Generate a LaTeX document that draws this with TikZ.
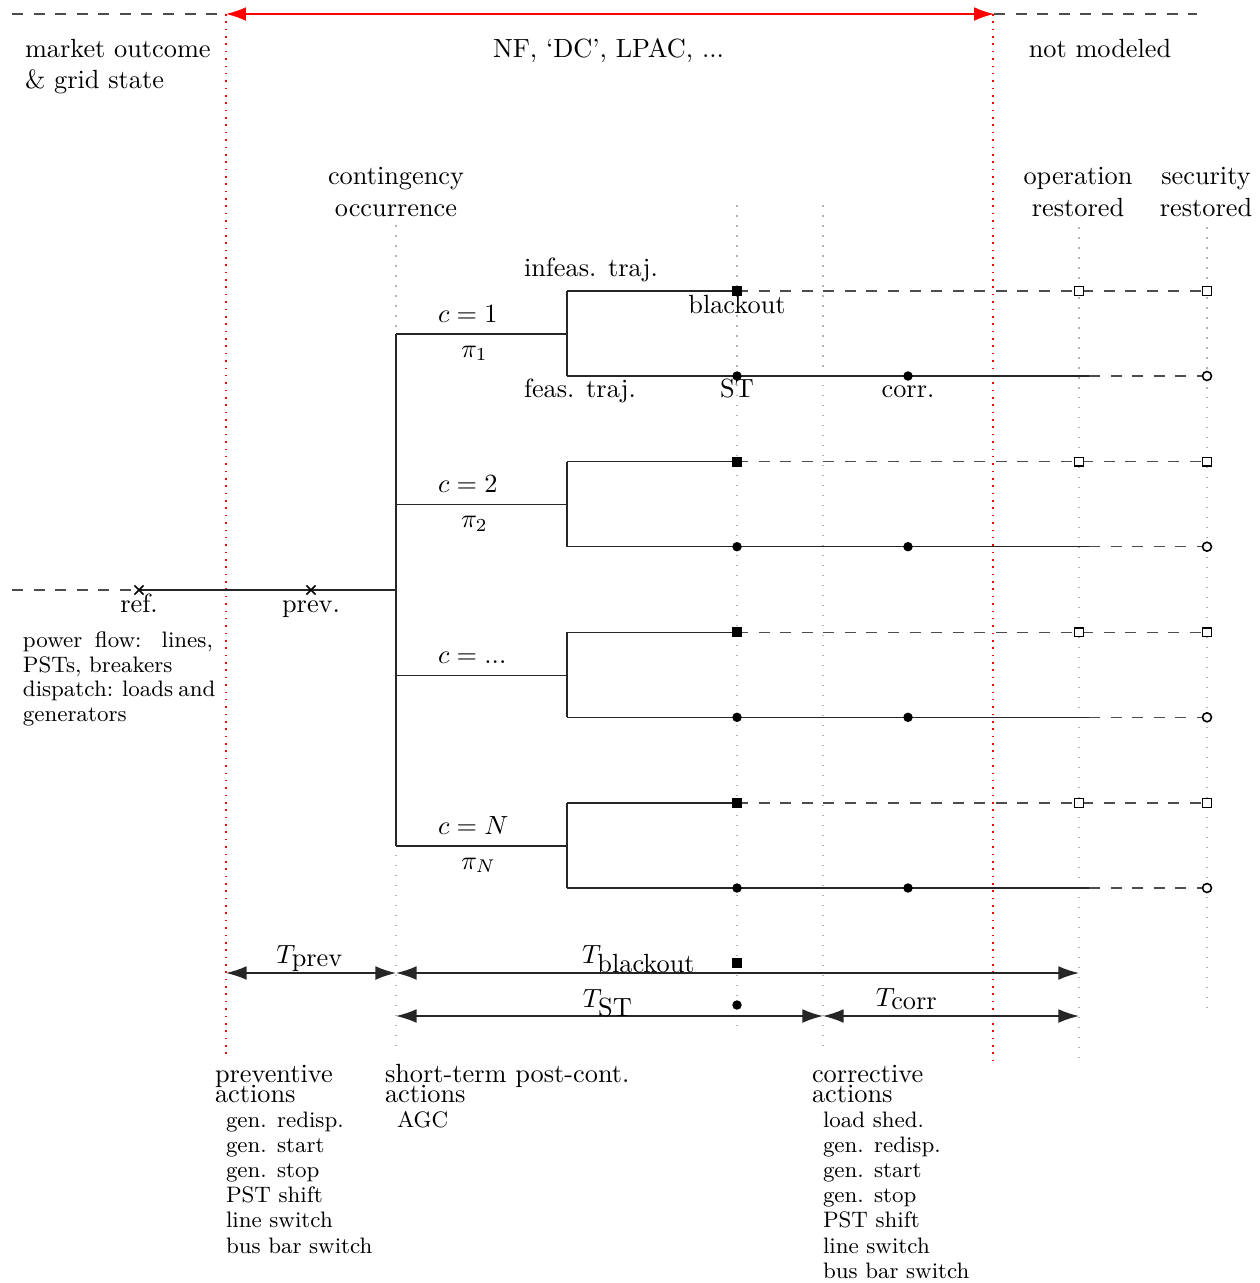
\documentclass[tikz,border=0pt]{standalone}
\usepackage{fontspec}
\usetikzlibrary{arrows.meta,shapes.misc}

% stacked lines with a fixed baseline distance; the box baseline is the first line's
\newcommand{\leftlines}[2]{\vtop{\baselineskip=#1\lineskiplimit=-\maxdimen\lineskip=0pt\halign{##\hfil\cr#2\crcr}}}
\newcommand{\midlines}[2]{\vtop{\baselineskip=#1\lineskiplimit=-\maxdimen\lineskip=0pt\halign{\hfil##\hfil\cr#2\crcr}}}

\begin{document}
\begin{tikzpicture}[x=0.3802pt,y=-0.3802pt,
  tree/.style={line width=0.55pt,black!85},
  dsh/.style={line width=0.55pt,black!70,dash pattern=on 4.2pt off 4pt},
  gdot/.style={line width=0.6pt,black!30,dash pattern=on 0.6pt off 3.2pt},
  rdot/.style={line width=0.6pt,red,dash pattern=on 0.6pt off 2.2pt},
  redspan/.style={line width=0.5pt,red,{Latex[length=7.6pt,width=5.2pt]}-{Latex[length=7.6pt,width=5.2pt]}},
  span/.style={line width=0.55pt,black!85,{Latex[length=7.8pt,width=5.2pt]}-{Latex[length=7.8pt,width=5.2pt]}},
  lbl/.style={inner sep=0pt,outer sep=0pt,anchor=base},
  lblw/.style={inner sep=0pt,outer sep=0pt,anchor=base west},
  smallfont/.style={font=\fontsize{8.5pt}{9.6pt}\selectfont},
  fsq/.style={rectangle,fill=black,inner sep=0pt,minimum size=3.9pt},
  osq/.style={rectangle,draw=black,line width=0.6pt,fill=white,inner sep=0pt,minimum size=3.3pt},
  fdot/.style={circle,fill=black,inner sep=0pt,minimum size=3.6pt},
  odot/.style={circle,draw=black,line width=0.6pt,fill=white,inner sep=0pt,minimum size=3.4pt},
  xm/.style={cross out,draw=black,line width=0.6pt,inner sep=0pt,minimum size=2.9pt}]

\useasboundingbox (0,0) rectangle (1259,1283);

% ---- time markers (dotted verticals)
\draw[rdot] (226,14) -- (226,1055);
\draw[rdot] (993,14) -- (993,1062);
\draw[gdot] (396,225) -- (396,1052);
\draw[gdot] (737,205) -- (737,1030);
\draw[gdot] (823,205) -- (823,1052);
\draw[gdot] (1079,227) -- (1079,1062);
\draw[gdot] (1207,227) -- (1207,1010);

% ---- modelling horizon bar
\coordinate (tl) at (12,14);
\coordinate (ta) at (226,14);
\coordinate (tb) at (994,14);
\coordinate (tr) at (1197,14);
\draw[dsh] (tl) -- (ta);
\draw[dsh] (tb) -- (tr);
\draw[redspan] (ta) -- (tb);

\node[lblw] (mkt) at (25,57) {\leftlines{11.8pt}{market outcome\cr \& grid state}};
\node[lbl] (models) at (608.5,57) {NF, `DC', LPAC, ...};
\node[lbl] (notmod) at (1100,57) {not modeled};
\node[lbl] (cont) at (396,184) {\midlines{12.5pt}{contingency\cr occurrence}};
\node[lbl] (oprest) at (1078,184) {\midlines{12.5pt}{operation\cr restored}};
\node[lbl] (secrest) at (1206,184) {\midlines{12.5pt}{security\cr restored}};

% ---- pre-contingency state
\coordinate (lft) at (12,590);
\coordinate (root) at (396,590);
\coordinate (refp) at (139,590);
\coordinate (prevp) at (311,590);
\draw[dsh] (lft) -- (refp);
\draw[tree] (refp) -- (root);
\node[xm] (ref) at (refp) {};
\node[xm] (prev) at (prevp) {};
\node[lbl] (reflbl) at (139,612) {ref.};
\node[lbl] (prevlbl) at (311,612) {prev.};

\node[lblw,smallfont] (pfdesc) at (23,647) {\vtop{\hsize=72.2pt\parindent=0pt\fontsize{8.5pt}{9.5pt}\selectfont
  power flow: lines,\linebreak PSTs, breakers\par
  dispatch: loads and\linebreak generators\par}};

% ---- contingency tree
\coordinate (b1) at (396,334);
\coordinate (b4) at (396,846);
\draw[tree] (b1) -- (b4);

\foreach \i/\yb in {1/334,2/504.7,3/675.3,4/846}{
  \coordinate (br\i) at (396,\yb);
  \coordinate (sp\i) at (567,\yb);
  \coordinate (up\i) at (567,\yb-43);
  \coordinate (dn\i) at (567,\yb+42);
  \coordinate (bkp\i) at (737,\yb-43);
  \coordinate (opp\i) at (1079,\yb-43);
  \coordinate (sep\i) at (1207,\yb-43);
  \coordinate (stp\i) at (737,\yb+42);
  \coordinate (cop\i) at (908,\yb+42);
  \coordinate (end\i) at (1089,\yb+42);
  \coordinate (scp\i) at (1207,\yb+42);
  \draw[tree] (br\i) -- (sp\i);
  \draw[tree] (up\i) -- (dn\i);
  \draw[tree] (up\i) -- (bkp\i);
  \draw[dsh] (bkp\i) -- (sep\i);
  \draw[tree] (dn\i) -- (end\i);
  \draw[dsh] (end\i) -- (scp\i);
  \node[fsq] (bk\i) at (bkp\i) {};
  \node[osq] (op\i) at (opp\i) {};
  \node[osq] (se\i) at (sep\i) {};
  \node[fdot] (st\i) at (stp\i) {};
  \node[fdot] (co\i) at (cop\i) {};
  \node[odot] (sc\i) at (scp\i) {};
}

\node[lblw] (c1) at (438,322) {$c=1$};
\node[lblw] (pi1) at (461,357) {$\pi_1$};
\node[lblw] (c2) at (438,492.7) {$c=2$};
\node[lblw] (pi2) at (461,527.7) {$\pi_2$};
\node[lblw] (c3) at (438,663.3) {$c=...$};
\node[lblw] (c4) at (438,834) {$c=N$};
\node[lblw] (pi4) at (461,869) {$\pi_N$};

\node[lblw] (infeas) at (524,276) {infeas. traj.};
\node[lbl] (blk) at (737,313) {blackout};
\node[lblw] (feas) at (524,397) {feas. traj.};
\node[lbl] (stl) at (737,397) {ST};
\node[lbl] (corrl) at (908,397) {corr.};

% ---- durations
\coordinate (p0) at (226,973);
\coordinate (p1) at (396,973);
\coordinate (p2) at (1079,973);
\coordinate (q0) at (396,1016);
\coordinate (q1) at (823,1016);
\coordinate (q2) at (1079,1016);
\draw[span] (p0) -- (p1);
\draw[span] (p1) -- (p2);
\draw[span] (q0) -- (q1);
\draw[span] (q1) -- (q2);
\node[fsq] (bkkey) at (737,963) {};
\node[fdot] (stkey) at (737,1005) {};
\node[lbl] (tprev) at (310,963) {$T_{\mbox{prev}}$};
\node[lbl] (tblk) at (639,963) {$T_{\mbox{blackout}}$};
\node[lbl] (tst) at (608,1007) {$T_{\mbox{ST}}$};
\node[lbl] (tcorr) at (907,1006) {$T_{\mbox{corr}}$};

% ---- action lists
\node[lblw] (prevh) at (215,1082) {\leftlines{7.9pt}{preventive\cr actions}};
\node[lblw,smallfont] (preva) at (226,1127) {\leftlines{9.58pt}{gen. redisp.\cr gen. start\cr gen. stop\cr PST shift\cr line switch\cr bus bar switch}};
\node[lblw] (sth) at (385,1082) {\leftlines{7.9pt}{short-term post-cont.\cr actions}};
\node[lblw,smallfont] (sta) at (397,1127) {AGC};
\node[lblw] (corrh) at (812,1082) {\leftlines{7.9pt}{corrective\cr actions}};
\node[lblw,smallfont] (corra) at (823,1127) {\leftlines{9.58pt}{load shed.\cr gen. redisp.\cr gen. start\cr gen. stop\cr PST shift\cr line switch\cr bus bar switch}};

\end{tikzpicture}
\end{document}
